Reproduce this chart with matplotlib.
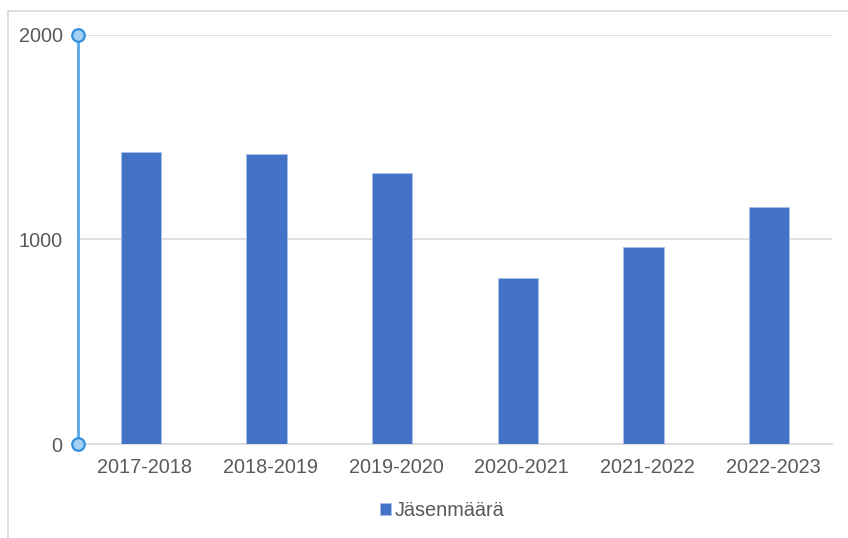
import matplotlib
matplotlib.use("Agg")
from matplotlib import pyplot as plt
from matplotlib.patches import Rectangle
from matplotlib.transforms import ScaledTranslation

# data
kaudet = ["2017-2018", "2018-2019", "2019-2020", "2020-2021", "2021-2022", "2022-2023"]
jasenmaara = [1430, 1420, 1325, 812, 965, 1157]
yticks = [0, 1000, 2000]

plt.rcParams['font.family'] = ['Liberation Sans', 'DejaVu Sans']
text_col = '#595959'

fig = plt.figure(figsize=(8.48, 5.38), dpi=100)
W, H = 848, 538

# light frame around the chart
fig.patches.append(Rectangle((8 / W, -0.1), 1.0, 1 - 11 / H + 0.1, transform=fig.transFigure,
                             fill=False, edgecolor='#d9d9d9', linewidth=1.2))

ax = fig.add_axes([78 / W, 1 - 444 / H, (832 - 78) / W, (444 - 35) / H])
x = range(len(kaudet))
ax.bar(x, jasenmaara, width=0.32, color='#4472C4', edgecolor='#a9c0ea', linewidth=0.6,
       zorder=3, label='Jäsenmäärä')

ax.set_xlim(-0.5, len(kaudet) - 0.5)
ax.set_ylim(0, 2000)
ax.set_yticks(yticks)
ax.set_yticklabels([str(v) for v in yticks])
ax.set_xticks(list(x))
ax.set_xticklabels(kaudet)
ax.grid(axis='y', color='#d9d9d9', linewidth=1.2, zorder=0)
for s in ['top', 'right', 'left']:
    ax.spines[s].set_visible(False)
ax.spines['bottom'].set_color('#d9d9d9')
ax.spines['bottom'].set_linewidth(1.2)
ax.tick_params(axis='both', length=0, labelsize=14.3, labelcolor=text_col)
ax.tick_params(axis='x', pad=10)
ax.tick_params(axis='y', pad=11)

# category labels sit a few pixels right of the bar centres
shift = ScaledTranslation(4 / 100, 0, fig.dpi_scale_trans)
for lab in ax.get_xticklabels():
    lab.set_transform(lab.get_transform() + shift)

# blue selected y axis with end handles
ax.plot([-0.5, -0.5], [0, 2000], color='#5aa9e6', linewidth=2, zorder=4, clip_on=False)
ax.plot([-0.5, -0.5], [0, 2000], 'o', markersize=9, markerfacecolor='#a3d2f5',
        markeredgecolor='#2f8fdc', markeredgewidth=1.6, zorder=5, clip_on=False)

leg = fig.legend(loc='center', bbox_to_anchor=(442 / W, 1 - 511 / H), frameon=False,
                 fontsize=14.3, handlelength=0.55, handleheight=0.55, handletextpad=0.2,
                 labelcolor=text_col)

fig.savefig('out.png', dpi=100)
